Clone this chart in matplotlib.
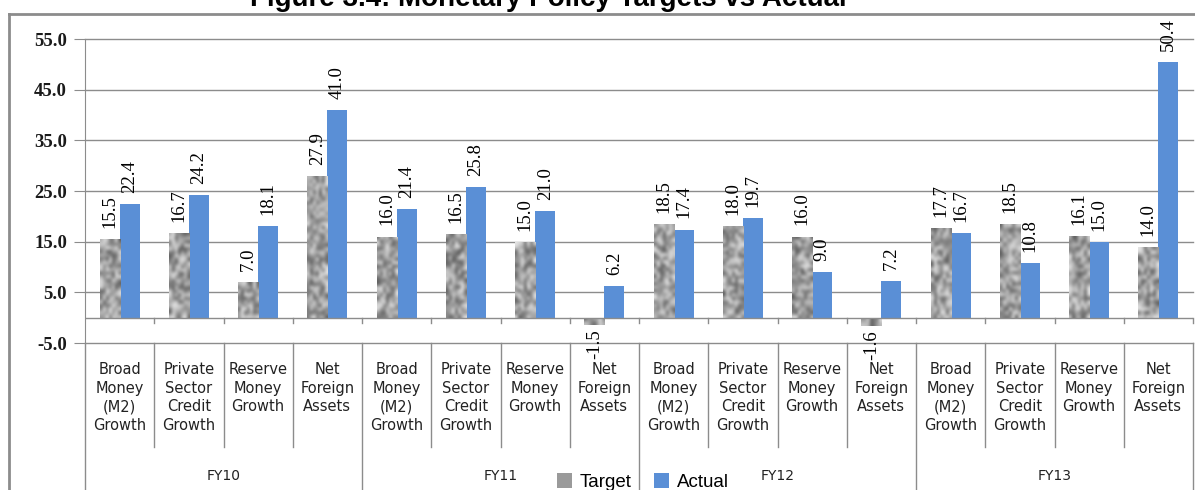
import matplotlib
matplotlib.use('Agg')
import matplotlib.pyplot as plt
import numpy as np
from matplotlib.patches import Patch

# data
groups = ['FY10', 'FY11', 'FY12', 'FY13']
indicators = ['Broad\nMoney\n(M2)\nGrowth', 'Private\nSector\nCredit\nGrowth',
              'Reserve\nMoney\nGrowth', 'Net\nForeign\nAssets']
target = [15.5, 16.7, 7.0, 27.9,
          16.0, 16.5, 15.0, -1.5,
          18.5, 18.0, 16.0, -1.6,
          17.7, 18.5, 16.1, 14.0]
actual = [22.4, 24.2, 18.1, 41.0,
          21.4, 25.8, 21.0, 6.2,
          17.4, 19.7, 9.0, 7.2,
          16.7, 10.8, 15.0, 50.4]
yticks = [-5, 5, 15, 25, 35, 45, 55]

W, H = 1195, 490
fig = plt.figure(figsize=(W / 100, H / 100), dpi=100)
grid_c = '#8c8c8c'
blue = '#5a8fd6'

left, right = 85 / W, 1193 / W
ax = fig.add_axes([left, 0.3, right - left, (343 - 39) / H])
n = len(target)
x = np.arange(n)
bw = 0.29

ax.set_axisbelow(True)
for t in yticks:
    ax.axhline(t, color=grid_c, lw=1, zorder=1, clip_on=False)
bars_t = ax.bar(x - bw / 2, target, bw, color='#9a9a9a', zorder=2)
bars_a = ax.bar(x + bw / 2, actual, bw, color=blue, zorder=2)

# granite-like texture on target bars (decoration only)
rng = np.random.default_rng(7)
for b in bars_t:
    x0, y0 = b.get_x(), b.get_y()
    w, h = b.get_width(), b.get_height()
    rows = max(2, int(abs(h) * 5.06 / 3.5))
    tex = 0.35 + 0.55 * rng.random((rows, 7))
    im = ax.imshow(tex, cmap='gray', vmin=0, vmax=1, extent=(x0, x0 + w, y0, y0 + h),
                   aspect='auto', interpolation='bicubic', zorder=2.5)
    im.set_clip_path(b)

for i in range(n):
    for v, dx in ((target[i], -bw / 2), (actual[i], bw / 2)):
        off = 8 if v >= 0 else -3
        ax.annotate(f'{v:.1f}', (x[i] + dx, v), xytext=(0, off), textcoords='offset points',
                    rotation=90, ha='center', va='bottom' if v >= 0 else 'top',
                    fontsize=13.5, family='Liberation Serif', zorder=4)

ax.set_xlim(-0.5, n - 0.5)
ax.set_ylim(-5, 55)
ax.set_yticks(yticks)
ax.set_yticklabels([f'{t:.1f}' for t in yticks], family='Liberation Serif',
                   fontweight='bold', fontsize=13.5, color='#1a1a1a')
ax.tick_params(axis='y', length=8, color=grid_c, pad=5)
ax.set_xticks([])
for s in ('top', 'right', 'bottom'):
    ax.spines[s].set_visible(False)
ax.spines['left'].set_color(grid_c)
ax.axhline(0, color=grid_c, lw=1, zorder=3)
for k in range(1, n + 1):
    ax.plot([k - 0.5, k - 0.5], [0, -1.0], color=grid_c, lw=1, clip_on=False)

# category table below the plot
tb = fig.add_axes([left, 0, right - left, 0.3])
tb.set_xlim(-0.5, n - 0.5)
tb.set_ylim(0, 147)
tb.axis('off')
for k in range(n + 1):
    bx = k - 0.5
    full = (k % 4 == 0)
    tb.plot([bx, bx], [147, 0 if full else 43], color=grid_c, lw=1, clip_on=False)
for i in range(n):
    tb.text(x[i], 490 - 362, indicators[i % 4], ha='center', va='top', fontsize=10.5,
            family='DejaVu Sans', color='#222222', linespacing=1.3)
for g, name in enumerate(groups):
    tb.text(g * 4 + 1.5, 490 - 476, name, ha='center', va='center', fontsize=10,
            family='DejaVu Sans', color='#222222')

# outer chart border
fig.add_artist(plt.Line2D([9 / W, 9 / W], [0, 1 - 14 / H], color=grid_c, lw=2))
fig.add_artist(plt.Line2D([9 / W, 1], [1 - 14 / H, 1 - 14 / H], color=grid_c, lw=2))

# title, cut off by the top edge as in the source
fig.text(548 / W, 1 - 6 / H, 'Figure 3.4: Monetary Policy Targets vs Actual', ha='center',
         va='baseline', fontsize=20, fontweight='bold', family='Liberation Sans')

handles = [Patch(facecolor='#9a9a9a'), Patch(facecolor=blue)]
fig.legend(handles, ['Target', 'Actual'], loc='center', bbox_to_anchor=(643 / W, 1 - 482 / H),
           ncol=2, frameon=False, prop={'family': 'Liberation Sans', 'size': 13.5},
           handlelength=0.8, handleheight=0.8, handletextpad=0.4, columnspacing=1.2)

fig.savefig('out.png', dpi=100)
